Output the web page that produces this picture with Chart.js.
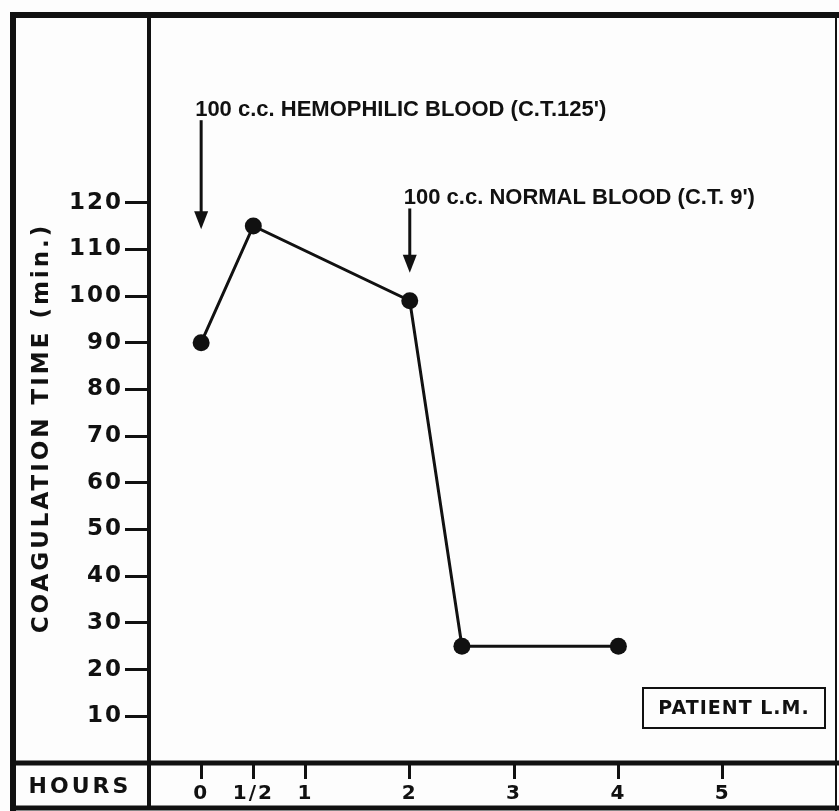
<!DOCTYPE html>
<html>
<head>
<meta charset="utf-8">
<script src="https://cdn.jsdelivr.net/npm/chart.js@4.4.1/dist/chart.umd.min.js"></script>
<style>
  html, body { margin: 0; padding: 0; background: #fdfdfd; }
</style>
</head>
<body>
<canvas id="chart" width="839" height="811"></canvas>
<script>
// readings (patient L.M.)
const hours = [0, 0.5, 2, 2.5, 4];
const coagTime = [90, 115, 99, 25, 25];

const xTickValues = [0, 0.5, 1, 2, 3, 4, 5];
const xTickLabels = ["0", "1/2", "1", "2", "3", "4", "5"];
const yTickValues = [10, 20, 30, 40, 50, 60, 70, 80, 90, 100, 110, 120];

const noteHours = [0, 2];
const noteTexts = ["100 c.c. HEMOPHILIC BLOOD (C.T.125')", "100 c.c. NORMAL BLOOD (C.T. 9')"];
const noteTextAt = [138.5, 119.6];
const noteTipAt = [114.3, 105];

const INK = "#111";
const FONT = "'DejaVu Sans', sans-serif";

const framePlugin = {
  id: "frame",
  beforeDraw(chart) {
    const ctx = chart.ctx;
    ctx.save();
    ctx.fillStyle = "#fdfdfd";
    ctx.fillRect(0, 0, chart.width, chart.height);
    ctx.restore();
    ctx.letterSpacing = "2px";
  },
  afterDraw(chart) {
    const { ctx, chartArea } = chart;
    const x = chart.scales.x, y = chart.scales.y;
    ctx.save();
    ctx.letterSpacing = "0px";
    ctx.strokeStyle = INK;
    ctx.fillStyle = INK;
    ctx.lineCap = "butt";

    const line = (x1, y1, x2, y2, w) => {
      ctx.lineWidth = w;
      ctx.beginPath();
      ctx.moveTo(x1, y1);
      ctx.lineTo(x2, y2);
      ctx.stroke();
    };
    // outer frame and dividers
    line(13, 12, 13, 811, 6);
    line(10, 15, 839, 15, 6);
    line(836, 12, 836, 811, 2);
    line(10, 808, 839, 808, 5);
    line(chartArea.left, 12, chartArea.left, 808, 4);
    line(10, chartArea.bottom, 839, chartArea.bottom, 5);

    // annotations with arrows
    noteHours.forEach((h, i) => {
      const px = x.getPixelForValue(h);
      const ty = y.getPixelForValue(noteTextAt[i]);
      const tip = y.getPixelForValue(noteTipAt[i]);
      ctx.font = "bold 22px 'Liberation Sans', sans-serif";
      ctx.textAlign = "left";
      ctx.textBaseline = "alphabetic";
      ctx.fillText(noteTexts[i], px - 6, ty);
      line(px, ty + 4, px, tip - 14, 3);
      ctx.beginPath();
      ctx.moveTo(px - 7, tip - 18);
      ctx.lineTo(px + 7, tip - 18);
      ctx.lineTo(px, tip);
      ctx.closePath();
      ctx.fill();
    });

    // axis title
    ctx.letterSpacing = "3px";
    ctx.save();
    ctx.translate(42, 428);
    ctx.rotate(-Math.PI / 2);
    ctx.font = "bold 23px " + FONT;
    ctx.textAlign = "center";
    ctx.textBaseline = "middle";
    ctx.fillText("COAGULATION TIME (min.)", 0, 0);
    ctx.restore();

    // bottom row label
    ctx.font = "bold 22px " + FONT;
    ctx.textAlign = "center";
    ctx.textBaseline = "middle";
    ctx.fillText("HOURS", 80, 787);

    // patient box
    ctx.lineWidth = 2;
    ctx.strokeRect(643, 688, 182, 40);
    ctx.letterSpacing = "1px";
    ctx.font = "bold 19px " + FONT;
    ctx.fillText("PATIENT L.M.", 734, 709);
    ctx.restore();
  }
};

new Chart(document.getElementById("chart"), {
  type: "line",
  data: {
    datasets: [{
      data: hours.map((h, i) => ({ x: h, y: coagTime[i] })),
      borderColor: INK,
      borderWidth: 3,
      backgroundColor: INK,
      pointRadius: 8.5,
      pointHoverRadius: 8.5,
      pointBorderWidth: 0,
      tension: 0
    }]
  },
  options: {
    responsive: false,
    animation: false,
    devicePixelRatio: 1,
    layout: { padding: { left: 10, top: 13, right: 12, bottom: 3 } },
    plugins: { legend: { display: false }, tooltip: { enabled: false } },
    scales: {
      x: {
        type: "linear",
        min: -0.5,
        max: 6,
        afterFit(scale) { scale.height = 45; },
        afterBuildTicks(scale) { scale.ticks = xTickValues.map(v => ({ value: v })); },
        border: { display: false },
        grid: { drawOnChartArea: false, tickLength: 16, tickWidth: 3, tickColor: INK },
        ticks: {
          color: INK,
          padding: 3,
          maxRotation: 0,
          autoSkip: false,
          font: { family: FONT, size: 20, weight: "bold" },
          callback: v => xTickLabels[xTickValues.indexOf(v)]
        }
      },
      y: {
        min: 0,
        max: 160,
        afterFit(scale) { scale.width = 139; },
        afterBuildTicks(scale) { scale.ticks = yTickValues.map(v => ({ value: v })); },
        border: { display: false },
        grid: { drawOnChartArea: false, tickLength: 24, tickWidth: 3, tickColor: INK },
        ticks: {
          color: INK,
          padding: 2,
          autoSkip: false,
          font: { family: FONT, size: 23, weight: "bold" }
        }
      }
    }
  },
  plugins: [framePlugin]
});
</script>
</body>
</html>
